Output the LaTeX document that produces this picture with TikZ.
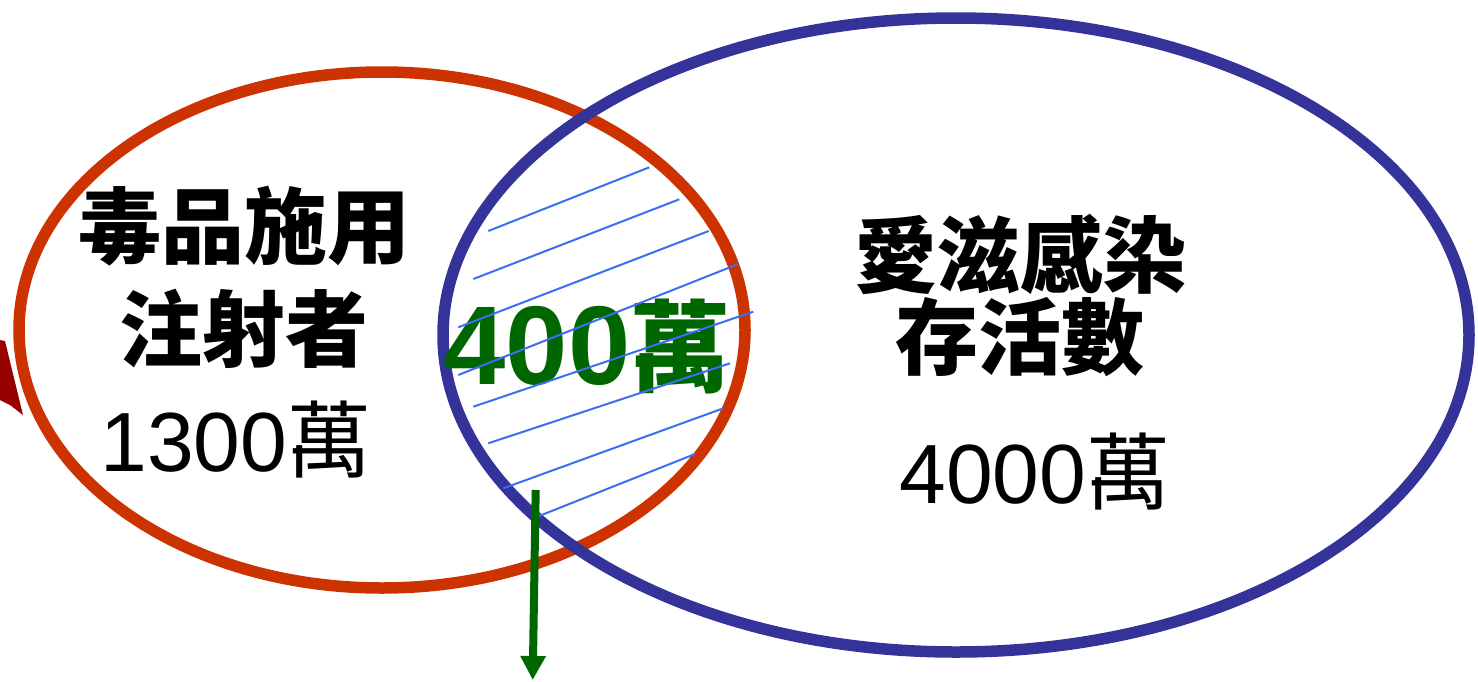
\documentclass[tikz,border=0pt]{standalone}
\usepackage{fontspec}
\setmainfont{Liberation Sans}
\newfontfamily\cjk{Noto Sans CJK TC}
\usetikzlibrary{arrows.meta}
\definecolor{redring}{RGB}{204,51,0}
\definecolor{bluering}{RGB}{51,51,153}
\definecolor{hatchblue}{RGB}{60,110,245}
\definecolor{darkgreen}{RGB}{0,102,0}
\definecolor{darkred}{RGB}{153,0,0}
\tikzset{
  ring/.style={line width=11.5pt},
  boldlabel/.style={inner sep=0pt, font=\cjk\bfseries\fontsize{83}{90}\selectfont},
  numlabel/.style={inner sep=0pt, font=\fontsize{84}{90}\selectfont},
  hatchline/.style={hatchblue, line width=2pt},
  pointer/.style={darkgreen, line width=8pt, -{Triangle[width=24pt,length=24pt]}}
}
\begin{document}
\begin{tikzpicture}[x=1pt,y=-1pt]
\useasboundingbox (0,0) rectangle (1478,681);
% cut-off shape at left edge
\fill[darkred] (0,340) -- (5,341) -- (23,415) -- (10,405) -- (0,400) -- cycle;
% rings
\draw[ring, redring] (382,330) ellipse [x radius=363, y radius=258];
\draw[ring, bluering] (956,335) ellipse [x radius=513, y radius=317];
% labels
\node[boldlabel] (l1) at (244,226) {毒品施用};
\node[boldlabel] (l2) at (244,329) {注射者};
\node[numlabel] (lnum) at (236,440) {1300{\cjk 萬}};
\node[boldlabel] (r1) at (1020,254) {愛滋感染};
\node[boldlabel] (r2) at (1020,337) {存活數};
\node[numlabel] (rnum) at (1035,472) {4000{\cjk 萬}};
\node[inner sep=0pt, text=darkgreen, font=\bfseries\fontsize{112}{116}\selectfont] (mid) at (587,347) {400{\cjk\fontsize{100}{110}\selectfont 萬}};
% hatching
\draw[hatchline] (488.3,231.0) -- (649.3,167.3);
\draw[hatchline] (473.3,279.0) -- (679.3,199.3);
\draw[hatchline] (458.3,327.3) -- (708.7,231.0);
\draw[hatchline] (458.3,375.0) -- (738.3,264.0);
\draw[hatchline] (473.3,406.7) -- (753.3,311.7);
\draw[hatchline] (488.3,443.3) -- (730.0,363.3);
\draw[hatchline] (503.3,488.3) -- (723.3,408.3);
\draw[hatchline] (533.3,518.3) -- (695.0,454.0);
% arrow
\coordinate (astart) at (535.7,490);
\coordinate (aend) at (532.7,680);
\draw[pointer] (astart) -- (aend);
\end{tikzpicture}
\end{document}
